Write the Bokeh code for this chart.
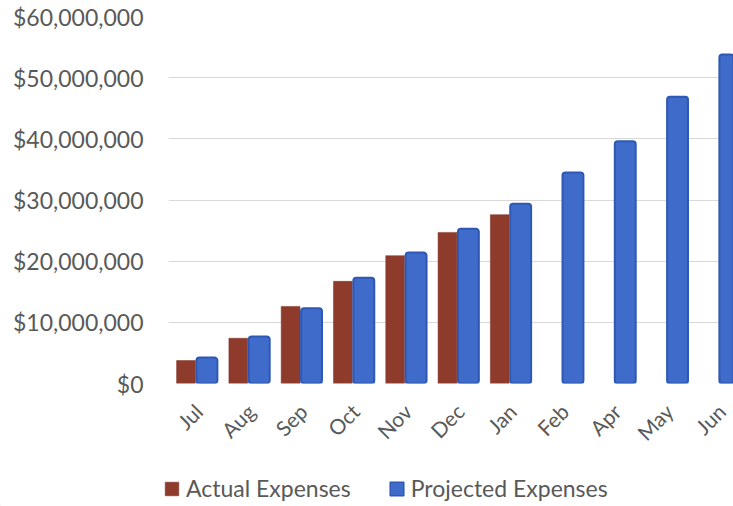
import math
from bokeh.plotting import figure
from bokeh.layouts import column
from bokeh.models import (Range1d, FixedTicker, SingleIntervalTicker, NumeralTickFormatter,
                          Legend, LegendItem, ColumnDataSource)
from bokeh.embed import file_html
from bokeh.resources import INLINE

months = ["Jul", "Aug", "Sep", "Oct", "Nov", "Dec", "Jan", "Feb", "Apr", "May", "Jun"]
actual = [3.75e6, 7.4e6, 12.6e6, 16.7e6, 20.9e6, 24.7e6, 27.6e6]
projected = [4.25e6, 7.7e6, 12.3e6, 17.3e6, 21.4e6, 25.3e6, 29.4e6, 34.5e6, 39.6e6, 46.9e6, 53.8e6]
series_names = ["Actual Expenses", "Projected Expenses"]

FONT = "Lato"
TXT = "#595959"
RED, RED_LINE = "#8E3B2C", "#7E3326"
BLUE, BLUE_LINE = "#3F6BCB", "#2F58B4"

p = figure(width=733, height=462, output_backend="svg", toolbar_location=None,
           x_range=Range1d(-0.535, 10.27), y_range=Range1d(0, 60e6),
           min_border_left=168, min_border_right=0, min_border_top=16, min_border_bottom=79)
p.outline_line_color = None
p.frame_align = False

src_a = ColumnDataSource(dict(x=[i - 0.2 for i in range(len(actual))], top=actual))
src_p = ColumnDataSource(dict(x=[i + 0.2 for i in range(len(projected))], top=projected))

p.vbar(x="x", top="top", bottom=0, width=0.36, source=src_a,
       fill_color=RED, line_color=RED_LINE, line_width=0.5)
p.vbar(x="x", top="top", bottom=0, width=0.40, source=src_p,
       fill_color=BLUE, line_color=BLUE_LINE, line_width=2, border_radius=3)

# tick labels are anchored slightly right of the category centre, as in the original
label_shift = 0.04
tick_pos = [i + label_shift for i in range(len(months))]
p.xaxis.ticker = FixedTicker(ticks=tick_pos)
p.xaxis.major_label_overrides = {t: m for t, m in zip(tick_pos, months)}
p.xaxis.major_label_orientation = math.pi / 4
p.xaxis.axis_line_color = None
p.xaxis.major_tick_line_color = None
p.xaxis.minor_tick_line_color = None
p.xaxis.major_tick_out = 0
p.xaxis.major_label_text_font = FONT
p.xaxis.major_label_text_font_size = "21px"
p.xaxis.major_label_text_color = TXT
p.xaxis.major_label_standoff = 24
p.xgrid.grid_line_color = None

p.yaxis.ticker = SingleIntervalTicker(interval=10e6)
p.yaxis.formatter = NumeralTickFormatter(format="$0,0")
p.yaxis.axis_line_color = None
p.yaxis.major_tick_line_color = None
p.yaxis.minor_tick_line_color = None
p.yaxis.major_tick_out = 0
p.yaxis.major_label_text_font = FONT
p.yaxis.major_label_text_font_size = "23px"
p.yaxis.major_label_text_color = TXT
p.yaxis.major_label_standoff = 21
p.ygrid.grid_line_color = "#D9D9D9"
p.ygrid.grid_line_width = 1

# legend strip below the chart (its swatch renderers sit outside the visible range)
lg = figure(width=733, height=44, output_backend="svg", toolbar_location=None,
            x_range=Range1d(0, 1), y_range=Range1d(0, 1), min_border=0,
            x_axis_location=None, y_axis_location=None)
lg.frame_align = False
lg.outline_line_color = None
lg.grid.visible = False
la = lg.vbar(x=[-10], top=[-10], bottom=[-11], width=0.1,
             fill_color=RED, line_color=RED_LINE, line_width=0.5)
lp = lg.vbar(x=[-10], top=[-10], bottom=[-11], width=0.1,
             fill_color=BLUE, line_color=BLUE_LINE, line_width=1.5)
legend = Legend(items=[LegendItem(label=series_names[0], renderers=[la]),
                       LegendItem(label=series_names[1], renderers=[lp])],
                orientation="horizontal", location=(163, 4),
                padding=0, margin=0, spacing=37, label_standoff=6,
                glyph_width=17, glyph_height=17, label_height=17,
                border_line_color=None, background_fill_alpha=0,
                label_text_font=FONT, label_text_font_size="23px", label_text_color=TXT)
lg.add_layout(legend, "center")

layout = column(p, lg, spacing=0)
open("out.html", "w").write(file_html(layout, INLINE))
